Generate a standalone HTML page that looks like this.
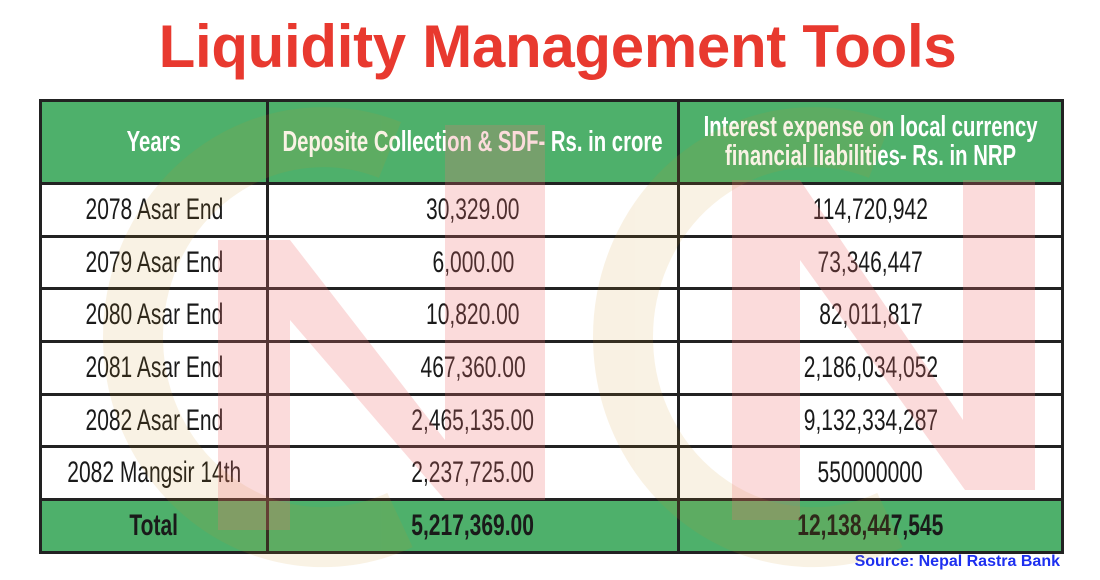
<!DOCTYPE html>
<html><head><meta charset="utf-8"><style>
body{margin:0;width:1100px;height:580px;background:#fff;position:relative;overflow:hidden;font-family:"Liberation Sans",sans-serif}
.title{position:absolute;left:0;width:1115px;top:12px;text-align:center;color:#e8392f;font-weight:bold;font-size:60px;letter-spacing:-0.3px}
table{position:absolute;left:39px;top:99px;width:1022px;border-collapse:collapse;table-layout:fixed;z-index:1}
td{border:3px solid #222;text-align:center;padding:0;height:49.7px;font-size:30px;color:#1a1a1a;overflow:visible;white-space:nowrap}
td span{display:inline-block;transform:scaleX(0.7);white-space:nowrap;margin:0 -150px}
tr.h td{background:#4eb06b;color:#fff;height:80px;font-weight:bold;font-size:29px;line-height:29px}
tr.t td{background:#4eb06b;font-weight:bold}
.src{position:absolute;right:40px;top:553px;color:#1d2ff0;font-weight:bold;font-size:16px}
svg{position:absolute;left:0;top:0;z-index:2;pointer-events:none}
</style></head><body>
<div class="title">Liquidity Management Tools</div>
<table>
<colgroup><col style="width:227px"><col style="width:411px"><col style="width:384px"></colgroup>
<tr class="h"><td><span>Years</span></td><td><span>Deposite Collection &amp; SDF- Rs. in crore</span></td><td><span>Interest expense on local currency<br>financial liabilities- Rs. in NRP</span></td></tr>
<tr><td><span>2078 Asar End</span></td><td><span>30,329.00</span></td><td><span>114,720,942</span></td></tr>
<tr><td><span>2079 Asar End</span></td><td><span>6,000.00</span></td><td><span>73,346,447</span></td></tr>
<tr><td><span>2080 Asar End</span></td><td><span>10,820.00</span></td><td><span>82,011,817</span></td></tr>
<tr><td><span>2081 Asar End</span></td><td><span>467,360.00</span></td><td><span>2,186,034,052</span></td></tr>
<tr><td><span>2082 Asar End</span></td><td><span>2,465,135.00</span></td><td><span>9,132,334,287</span></td></tr>
<tr><td><span>2082 Mangsir 14th</span></td><td><span>2,237,725.00</span></td><td><span>550000000</span></td></tr>
<tr class="t"><td><span>Total</span></td><td><span>5,217,369.00</span></td><td><span>12,138,447,545</span></td></tr>
</table>
<svg width="1100" height="580">
<g opacity="0.12">
<path d="M390 150 A190 200 0 1 0 400 520" fill="none" stroke="#d09020" stroke-width="60"/>
<path d="M880 150 A190 200 0 1 0 890 520" fill="none" stroke="#d09020" stroke-width="60"/>
</g>
<g fill="#f07070" opacity="0.25">
<polygon points="218,240 290,240 445,440 445,125 545,125 545,500 445,500 290,320 290,530 218,530"/>
<polygon points="732,180 800,180 963,420 963,180 1035,180 1035,490 965,490 800,260 800,520 732,520"/>
</g>
</svg>
<div class="src">Source: Nepal Rastra Bank</div>
</body></html>
